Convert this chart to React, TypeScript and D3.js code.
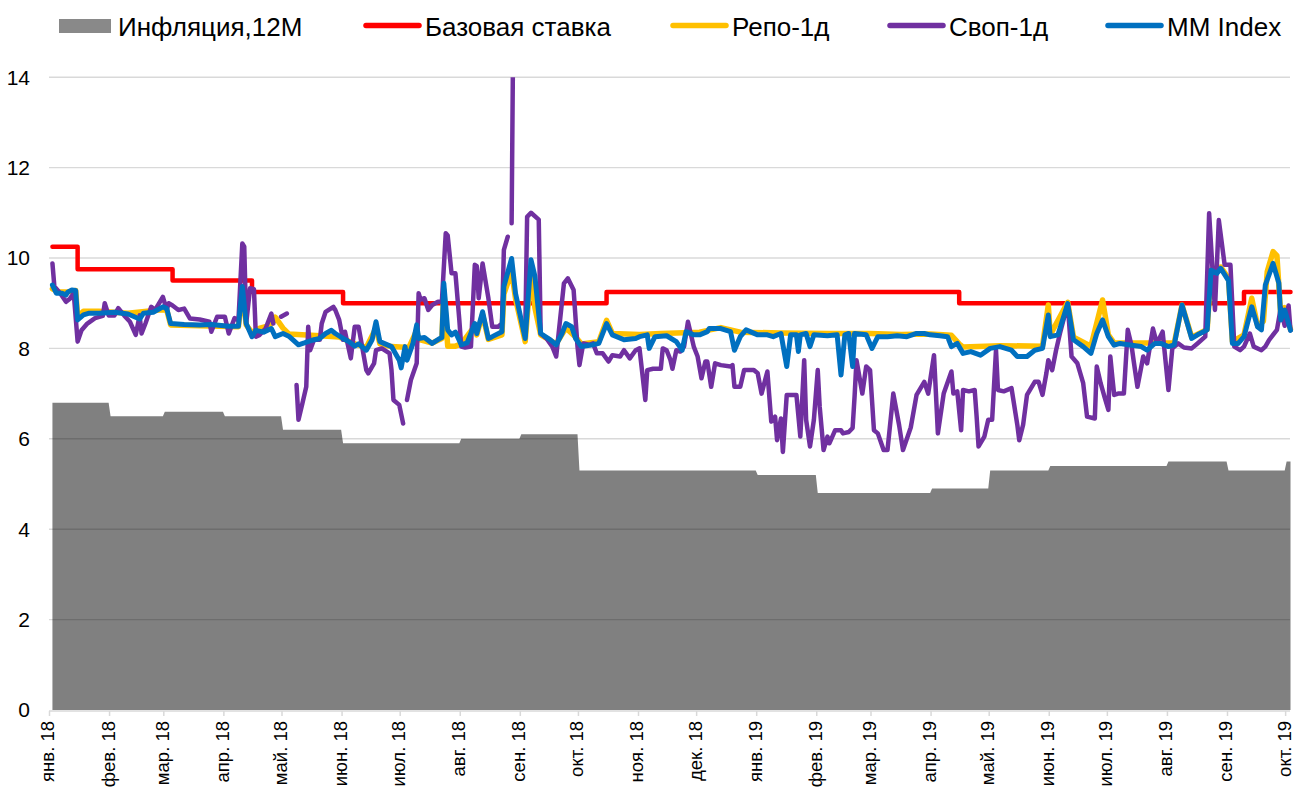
import React from "react";
import * as d3 from "d3";

// ---------- DATA ----------
const inflationMonths = [
  "2018-01", "2018-02", "2018-03", "2018-04", "2018-05", "2018-06", "2018-07", "2018-08",
  "2018-09", "2018-10", "2018-11", "2018-12", "2019-01", "2019-02", "2019-03", "2019-04",
  "2019-05", "2019-06", "2019-07", "2019-08", "2019-09", "2019-10",
];
const inflationValues = [6.8, 6.5, 6.6, 6.5, 6.2, 5.9, 5.9, 6.0, 6.1, 5.3, 5.3, 5.3, 5.2, 4.8, 4.8, 4.9, 5.3, 5.4, 5.4, 5.5, 5.3, 5.5];

const baseRateDates = ["2018-01-02", "2018-01-15", "2018-03-05", "2018-04-15", "2018-06-01", "2018-10-15", "2019-04-15", "2019-09-09", "2019-10-03"];
const baseRateValues = [10.25, 9.75, 9.5, 9.25, 9.0, 9.25, 9.0, 9.25, 9.25];

const repoPoints: [string, number][] = [
  ["2018-01-02", 9.32], ["2018-01-05", 9.25], ["2018-01-10", 9.25], ["2018-01-14", 9.28], ["2018-01-15", 8.7],
  ["2018-01-18", 8.82], ["2018-01-26", 8.82], ["2018-02-10", 8.78], ["2018-02-26", 8.85], ["2018-03-02", 8.85],
  ["2018-03-04", 8.52], ["2018-03-19", 8.5], ["2018-04-08", 8.48], ["2018-04-10", 9.3], ["2018-04-12", 8.52],
  ["2018-04-15", 8.35], ["2018-04-19", 8.45], ["2018-04-24", 8.5], ["2018-04-27", 8.69], ["2018-05-01", 8.45],
  ["2018-05-04", 8.32], ["2018-05-20", 8.28], ["2018-05-30", 8.25], ["2018-06-07", 8.1], ["2018-06-13", 8.02],
  ["2018-06-18", 8.45], ["2018-06-20", 8.1], ["2018-06-26", 8.04], ["2018-07-05", 8.02], ["2018-07-09", 8.4],
  ["2018-07-10", 8.2], ["2018-07-17", 8.12], ["2018-07-22", 8.22], ["2018-07-23", 9.3], ["2018-07-25", 8.05],
  ["2018-07-29", 8.05], ["2018-08-01", 8.1], ["2018-08-08", 8.5], ["2018-08-09", 8.3], ["2018-08-12", 8.75],
  ["2018-08-15", 8.2], ["2018-08-22", 8.3], ["2018-08-23", 9.2], ["2018-08-27", 9.7], ["2018-08-29", 9.1],
  ["2018-09-03", 8.15], ["2018-09-06", 9.75], ["2018-09-08", 8.9], ["2018-09-11", 8.3], ["2018-09-19", 8.1],
  ["2018-09-24", 8.45], ["2018-09-29", 8.25], ["2018-10-02", 8.1], ["2018-10-11", 8.15], ["2018-10-15", 8.62],
  ["2018-10-18", 8.33], ["2018-11-01", 8.31], ["2018-11-12", 8.33], ["2018-12-02", 8.36], ["2018-12-13", 8.46],
  ["2018-12-23", 8.36], ["2019-01-13", 8.34], ["2019-02-07", 8.33], ["2019-02-28", 8.33], ["2019-03-16", 8.31],
  ["2019-03-31", 8.32], ["2019-04-11", 8.29], ["2019-04-15", 8.1], ["2019-04-17", 8.03], ["2019-05-06", 8.06],
  ["2019-05-28", 8.05], ["2019-05-31", 8.96], ["2019-06-01", 8.3], ["2019-06-10", 9.02], ["2019-06-13", 8.25],
  ["2019-06-22", 8.05], ["2019-06-28", 9.07], ["2019-07-01", 8.3], ["2019-07-04", 8.12], ["2019-07-23", 8.12],
  ["2019-08-04", 8.12], ["2019-08-08", 8.96], ["2019-08-13", 8.25], ["2019-08-21", 8.42], ["2019-08-23", 9.73],
  ["2019-08-28", 9.8], ["2019-09-01", 9.55], ["2019-09-03", 8.15], ["2019-09-09", 8.3], ["2019-09-13", 9.11],
  ["2019-09-16", 8.5], ["2019-09-19", 8.6], ["2019-09-21", 9.7], ["2019-09-24", 10.14], ["2019-09-26", 10.05],
  ["2019-09-28", 8.7], ["2019-09-30", 8.9], ["2019-10-03", 8.42],
];

// null = gap in the series
const swapPoints: ([string, number] | null)[] = [
  ["2018-01-02", 9.88], ["2018-01-03", 9.37], ["2018-01-06", 9.22], ["2018-01-09", 9.03], ["2018-01-11", 9.1],
  ["2018-01-13", 9.22], ["2018-01-15", 8.15], ["2018-01-17", 8.4], ["2018-01-20", 8.55], ["2018-01-24", 8.67],
  ["2018-01-28", 8.72], ["2018-01-29", 9.0], ["2018-01-31", 8.73], ["2018-02-03", 8.73], ["2018-02-05", 8.89],
  ["2018-02-08", 8.73], ["2018-02-11", 8.59], ["2018-02-14", 8.3], ["2018-02-16", 8.73], ["2018-02-17", 8.33],
  ["2018-02-19", 8.55], ["2018-02-22", 8.92], ["2018-02-24", 8.85], ["2018-02-28", 9.14], ["2018-03-02", 8.85],
  ["2018-03-03", 9.0], ["2018-03-05", 8.95], ["2018-03-08", 8.85], ["2018-03-11", 8.88], ["2018-03-14", 8.66],
  ["2018-03-19", 8.64], ["2018-03-24", 8.59], ["2018-03-25", 8.37], ["2018-03-28", 8.7], ["2018-04-01", 8.7],
  ["2018-04-03", 8.33], ["2018-04-06", 8.67], ["2018-04-08", 8.62], ["2018-04-10", 10.32], ["2018-04-11", 10.25],
  ["2018-04-12", 8.55], ["2018-04-14", 9.33], ["2018-04-16", 9.31], ["2018-04-17", 8.26], ["2018-04-19", 8.3],
  ["2018-04-22", 8.44], ["2018-04-24", 8.66], ["2018-04-25", 8.77], ["2018-04-26", 8.55],
  null,
  ["2018-04-30", 8.7], ["2018-05-03", 8.77],
  null,
  ["2018-05-08", 7.19], ["2018-05-09", 6.42], ["2018-05-11", 6.78], ["2018-05-13", 7.15], ["2018-05-14", 8.48],
  ["2018-05-15", 7.96], ["2018-05-17", 8.19], ["2018-05-20", 8.19], ["2018-05-21", 8.55], ["2018-05-23", 8.81],
  ["2018-05-27", 8.92], ["2018-05-28", 8.85], ["2018-05-30", 8.63], ["2018-06-01", 8.19], ["2018-06-02", 8.37],
  ["2018-06-05", 7.78], ["2018-06-07", 8.48], ["2018-06-09", 8.48], ["2018-06-11", 8.0], ["2018-06-13", 7.52],
  ["2018-06-14", 7.45], ["2018-06-17", 7.67], ["2018-06-18", 7.96], ["2018-06-21", 8.0], ["2018-06-25", 7.89],
  ["2018-06-26", 7.52], ["2018-06-27", 6.86], ["2018-06-30", 6.75], ["2018-07-02", 6.34],
  null,
  ["2018-07-04", 6.86], ["2018-07-06", 7.3], ["2018-07-09", 7.67], ["2018-07-10", 9.22], ["2018-07-11", 9.08],
  ["2018-07-13", 9.11], ["2018-07-15", 8.85], ["2018-07-17", 8.96], ["2018-07-20", 9.03], ["2018-07-22", 9.03],
  ["2018-07-24", 10.55], ["2018-07-25", 10.5], ["2018-07-27", 9.66], ["2018-07-29", 9.66], ["2018-07-31", 8.63],
  ["2018-08-01", 8.04], ["2018-08-03", 8.02], ["2018-08-06", 8.04], ["2018-08-08", 9.85], ["2018-08-09", 9.82],
  ["2018-08-10", 9.11], ["2018-08-12", 9.88], ["2018-08-15", 9.11], ["2018-08-17", 8.48], ["2018-08-20", 8.48],
  ["2018-08-22", 8.55], ["2018-08-23", 10.18], ["2018-08-25", 10.47],
  null,
  ["2018-08-27", 10.77], ["2018-08-28", 16.0],
  null,
  ["2018-09-03", 8.26], ["2018-09-04", 10.91], ["2018-09-06", 11.0], ["2018-09-10", 10.85], ["2018-09-11", 8.33],
  ["2018-09-14", 8.22], ["2018-09-17", 8.04], ["2018-09-19", 7.82], ["2018-09-23", 9.44], ["2018-09-25", 9.55],
  ["2018-09-28", 9.29], ["2018-09-30", 8.04], ["2018-10-01", 7.63], ["2018-10-03", 8.11], ["2018-10-06", 8.08],
  ["2018-10-08", 8.11], ["2018-10-10", 7.89], ["2018-10-13", 7.89], ["2018-10-16", 7.71], ["2018-10-18", 7.85],
  ["2018-10-22", 7.82], ["2018-10-24", 7.96], ["2018-10-27", 7.78], ["2018-10-30", 7.96], ["2018-11-01", 8.0],
  ["2018-11-04", 6.86], ["2018-11-05", 7.52], ["2018-11-08", 7.55], ["2018-11-12", 7.55], ["2018-11-13", 8.0],
  ["2018-11-15", 7.96], ["2018-11-17", 7.74], ["2018-11-18", 7.55], ["2018-11-20", 7.96], ["2018-11-22", 7.93],
  ["2018-11-24", 8.04], ["2018-11-26", 8.59], ["2018-11-29", 8.04], ["2018-12-01", 7.82], ["2018-12-03", 7.34],
  ["2018-12-05", 7.71], ["2018-12-06", 7.71], ["2018-12-08", 7.15], ["2018-12-10", 7.67], ["2018-12-13", 7.63],
  ["2018-12-18", 7.6], ["2018-12-19", 7.63], ["2018-12-20", 7.15], ["2018-12-23", 7.15], ["2018-12-25", 7.52],
  ["2018-12-30", 7.52], ["2019-01-01", 7.45], ["2019-01-03", 7.0], ["2019-01-06", 7.49], ["2019-01-08", 6.38],
  ["2019-01-10", 6.49], ["2019-01-11", 5.97], ["2019-01-13", 6.45], ["2019-01-14", 5.71], ["2019-01-16", 6.97],
  ["2019-01-19", 6.97], ["2019-01-21", 6.97], ["2019-01-23", 6.05], ["2019-01-25", 7.74], ["2019-01-26", 6.42],
  ["2019-01-28", 5.83], ["2019-01-30", 6.42], ["2019-02-01", 7.52], ["2019-02-02", 6.71], ["2019-02-04", 5.75],
  ["2019-02-06", 6.05], ["2019-02-07", 5.9], ["2019-02-10", 6.19], ["2019-02-13", 6.19], ["2019-02-14", 6.12],
  ["2019-02-17", 6.15], ["2019-02-19", 6.24], ["2019-02-20", 6.93], ["2019-02-21", 7.74], ["2019-02-24", 7.0],
  ["2019-02-26", 7.6], ["2019-02-28", 7.52], ["2019-03-02", 6.19], ["2019-03-04", 6.12], ["2019-03-07", 5.75],
  ["2019-03-09", 5.75], ["2019-03-12", 7.0], ["2019-03-15", 6.3], ["2019-03-17", 5.75], ["2019-03-21", 6.25],
  ["2019-03-24", 6.97], ["2019-03-28", 7.26], ["2019-03-30", 7.0], ["2019-04-02", 7.85], ["2019-04-03", 7.0],
  ["2019-04-04", 6.12], ["2019-04-07", 7.0], ["2019-04-11", 7.49], ["2019-04-12", 7.0], ["2019-04-14", 7.05],
  ["2019-04-16", 6.19], ["2019-04-17", 7.08], ["2019-04-20", 7.05], ["2019-04-23", 7.08], ["2019-04-24", 6.49],
  ["2019-04-25", 5.83], ["2019-04-28", 6.05], ["2019-04-30", 6.42], ["2019-05-02", 6.42], ["2019-05-04", 7.96],
  ["2019-05-05", 7.08], ["2019-05-08", 7.05], ["2019-05-12", 7.12], ["2019-05-15", 6.31], ["2019-05-16", 5.97],
  ["2019-05-18", 6.31], ["2019-05-20", 6.97], ["2019-05-24", 7.26], ["2019-05-26", 7.26], ["2019-05-28", 6.97],
  ["2019-05-30", 7.45], ["2019-05-31", 7.74], ["2019-06-02", 7.52], ["2019-06-04", 7.96], ["2019-06-06", 8.33],
  ["2019-06-10", 8.99], ["2019-06-12", 7.82], ["2019-06-15", 7.67], ["2019-06-18", 7.23], ["2019-06-20", 6.49],
  ["2019-06-24", 6.45], ["2019-06-25", 7.6], ["2019-06-27", 7.23], ["2019-06-29", 6.93], ["2019-07-01", 6.64],
  ["2019-07-02", 7.82], ["2019-07-03", 7.38], ["2019-07-04", 6.97], ["2019-07-06", 7.0], ["2019-07-09", 7.0],
  ["2019-07-11", 8.41], ["2019-07-13", 8.05], ["2019-07-14", 7.74], ["2019-07-16", 7.15], ["2019-07-19", 7.82],
  ["2019-07-21", 7.67], ["2019-07-24", 8.44], ["2019-07-26", 8.11], ["2019-07-29", 8.37], ["2019-08-01", 7.08],
  ["2019-08-03", 8.0], ["2019-08-06", 8.11], ["2019-08-09", 8.02], ["2019-08-13", 8.0], ["2019-08-16", 8.11],
  ["2019-08-20", 8.26], ["2019-08-22", 10.99], ["2019-08-25", 8.85], ["2019-08-27", 10.84], ["2019-08-30", 9.85],
  ["2019-09-02", 9.85], ["2019-09-04", 8.04], ["2019-09-07", 7.96], ["2019-09-09", 8.04], ["2019-09-12", 8.33],
  ["2019-09-14", 8.04], ["2019-09-18", 7.96], ["2019-09-20", 8.04], ["2019-09-22", 8.19], ["2019-09-26", 8.41],
  ["2019-09-28", 8.9], ["2019-09-30", 8.5], ["2019-10-02", 8.95], ["2019-10-03", 8.4],
];

const mmIndexPoints: [string, number][] = [
  ["2018-01-02", 9.4], ["2018-01-04", 9.22], ["2018-01-07", 9.22], ["2018-01-09", 9.18], ["2018-01-10", 9.25],
  ["2018-01-12", 9.29], ["2018-01-14", 9.28], ["2018-01-15", 8.63], ["2018-01-18", 8.74], ["2018-01-21", 8.78],
  ["2018-01-26", 8.78], ["2018-02-03", 8.8], ["2018-02-10", 8.76], ["2018-02-16", 8.65], ["2018-02-18", 8.78],
  ["2018-02-23", 8.8], ["2018-02-28", 8.92], ["2018-03-02", 8.88], ["2018-03-04", 8.55], ["2018-03-11", 8.53],
  ["2018-03-19", 8.52], ["2018-03-25", 8.53], ["2018-04-03", 8.49], ["2018-04-08", 8.49], ["2018-04-10", 9.37],
  ["2018-04-12", 8.55], ["2018-04-15", 8.26], ["2018-04-17", 8.4], ["2018-04-21", 8.36], ["2018-04-25", 8.44],
  ["2018-04-27", 8.26], ["2018-05-01", 8.33], ["2018-05-04", 8.27], ["2018-05-09", 8.08], ["2018-05-12", 8.12],
  ["2018-05-16", 8.18], ["2018-05-20", 8.22], ["2018-05-23", 8.33], ["2018-05-26", 8.4], ["2018-05-28", 8.33],
  ["2018-06-01", 8.22], ["2018-06-04", 8.15], ["2018-06-07", 8.05], ["2018-06-09", 8.1], ["2018-06-13", 7.96],
  ["2018-06-16", 8.19], ["2018-06-18", 8.59], ["2018-06-20", 8.15], ["2018-06-26", 8.04], ["2018-06-30", 7.74],
  ["2018-07-01", 7.57], ["2018-07-03", 8.04], ["2018-07-04", 7.74], ["2018-07-07", 8.1], ["2018-07-09", 8.52],
  ["2018-07-10", 8.22], ["2018-07-13", 8.24], ["2018-07-17", 8.11], ["2018-07-21", 8.22], ["2018-07-22", 8.24],
  ["2018-07-23", 9.44], ["2018-07-25", 8.41], ["2018-07-27", 8.3], ["2018-07-29", 8.36], ["2018-08-01", 8.08],
  ["2018-08-04", 8.12], ["2018-08-08", 8.55], ["2018-08-09", 8.33], ["2018-08-12", 8.81], ["2018-08-15", 8.22],
  ["2018-08-17", 8.26], ["2018-08-22", 8.37], ["2018-08-23", 9.37], ["2018-08-27", 9.99], ["2018-08-29", 9.22],
  ["2018-09-03", 8.22], ["2018-09-06", 9.96], ["2018-09-08", 9.6], ["2018-09-11", 8.33], ["2018-09-16", 8.19],
  ["2018-09-19", 8.08], ["2018-09-22", 8.33], ["2018-09-24", 8.55], ["2018-09-27", 8.48], ["2018-09-29", 8.22],
  ["2018-10-02", 8.04], ["2018-10-08", 8.08], ["2018-10-11", 8.11], ["2018-10-15", 8.55], ["2018-10-18", 8.3],
  ["2018-10-24", 8.19], ["2018-10-30", 8.22], ["2018-11-01", 8.26], ["2018-11-05", 8.3], ["2018-11-06", 8.0],
  ["2018-11-09", 8.26], ["2018-11-15", 8.28], ["2018-11-20", 8.15], ["2018-11-23", 7.96], ["2018-11-25", 8.37],
  ["2018-11-29", 8.3], ["2018-12-02", 8.3], ["2018-12-06", 8.37], ["2018-12-07", 8.44], ["2018-12-13", 8.44],
  ["2018-12-18", 8.37], ["2018-12-20", 7.96], ["2018-12-23", 8.26], ["2018-12-26", 8.41], ["2019-01-01", 8.3],
  ["2019-01-06", 8.3], ["2019-01-09", 8.26], ["2019-01-13", 8.33], ["2019-01-16", 7.6], ["2019-01-18", 8.3],
  ["2019-01-21", 8.3], ["2019-01-22", 7.93], ["2019-01-23", 8.3], ["2019-01-26", 8.33], ["2019-01-28", 8.04],
  ["2019-01-30", 8.3], ["2019-02-06", 8.28], ["2019-02-11", 8.3], ["2019-02-13", 7.41], ["2019-02-15", 8.3],
  ["2019-02-17", 8.33], ["2019-02-19", 7.6], ["2019-02-20", 8.33], ["2019-02-26", 8.3], ["2019-03-01", 8.0],
  ["2019-03-04", 8.26], ["2019-03-09", 8.26], ["2019-03-14", 8.28], ["2019-03-19", 8.26], ["2019-03-24", 8.33],
  ["2019-03-28", 8.33], ["2019-03-31", 8.3], ["2019-04-05", 8.28], ["2019-04-09", 8.26], ["2019-04-11", 8.04],
  ["2019-04-14", 8.11], ["2019-04-17", 7.89], ["2019-04-21", 7.93], ["2019-04-26", 7.85], ["2019-05-01", 8.0],
  ["2019-05-06", 8.04], ["2019-05-12", 7.96], ["2019-05-15", 7.82], ["2019-05-20", 7.82], ["2019-05-24", 7.96],
  ["2019-05-28", 8.0], ["2019-05-31", 8.74], ["2019-06-01", 8.26], ["2019-06-05", 8.3], ["2019-06-10", 8.99],
  ["2019-06-13", 8.19], ["2019-06-18", 8.04], ["2019-06-22", 7.89], ["2019-06-25", 8.33], ["2019-06-28", 8.63],
  ["2019-07-01", 8.26], ["2019-07-04", 8.07], ["2019-07-07", 8.11], ["2019-07-13", 8.07], ["2019-07-18", 8.04],
  ["2019-07-21", 7.96], ["2019-07-25", 8.11], ["2019-07-28", 8.11], ["2019-08-01", 8.04], ["2019-08-04", 8.08],
  ["2019-08-08", 8.96], ["2019-08-13", 8.22], ["2019-08-16", 8.3], ["2019-08-21", 8.41], ["2019-08-23", 9.73],
  ["2019-08-26", 9.66], ["2019-08-28", 9.77], ["2019-09-01", 9.5], ["2019-09-03", 8.11], ["2019-09-06", 8.11],
  ["2019-09-09", 8.26], ["2019-09-13", 8.92], ["2019-09-16", 8.48], ["2019-09-18", 8.41], ["2019-09-20", 9.4],
  ["2019-09-24", 9.88], ["2019-09-27", 9.44], ["2019-09-28", 8.63], ["2019-09-30", 8.85], ["2019-10-03", 8.4],
];

const yTicks = [0, 2, 4, 6, 8, 10, 12, 14];
const monthTickDates = inflationMonths.map((m) => m + "-01");
const monthLabels = [
  "янв. 18", "фев. 18", "мар. 18", "апр. 18", "май. 18", "июн. 18", "июл. 18", "авг. 18",
  "сен. 18", "окт. 18", "ноя. 18", "дек. 18", "янв. 19", "фев. 19", "мар. 19", "апр. 19",
  "май. 19", "июн. 19", "июл. 19", "авг. 19", "сен. 19", "окт. 19",
];

const legendLabels = ["Инфляция,12М", "Базовая ставка", "Репо-1д", "Своп-1д", "MM Index"];
const seriesColors = ["#808080", "#ff0000", "#ffc000", "#7030a0", "#0070c0"];

// ---------- CHART ----------
const W = 1296;
const H = 789;
const FONT = "'Liberation Sans', Arial, Helvetica, sans-serif";

export default function App() {
  const parse = d3.timeParse("%Y-%m-%d");
  const p = (s: string) => parse(s) as Date;

  const x = d3.scaleTime().domain([p("2018-01-01"), p("2019-10-03")]).range([50.5, 1290.5]);
  const y = d3.scaleLinear().domain([0, 14]).range([710, 77.2]);
  const plotLeft = 49;
  const plotRight = 1290;

  // inflation: constant through each month
  const inflPts: [Date, number][] = [];
  inflationMonths.forEach((m, i) => {
    const start = i === 0 ? p("2018-01-02") : p(m + "-01");
    const end =
      i === inflationMonths.length - 1
        ? p("2019-10-03")
        : d3.timeDay.offset(p(inflationMonths[i + 1] + "-01"), -1);
    inflPts.push([start, inflationValues[i]]);
    inflPts.push([end, inflationValues[i]]);
  });
  const area = d3
    .area<[Date, number]>()
    .x((d) => x(d[0]))
    .y0(y(0))
    .y1((d) => y(d[1]));

  const rateLine = d3
    .line<number>()
    .x((_, i) => x(p(baseRateDates[i])))
    .y((v) => y(v))
    .curve(d3.curveStepAfter);

  const ptLine = d3
    .line<[string, number] | null>()
    .defined((d) => d !== null)
    .x((d) => x(p((d as [string, number])[0])))
    .y((d) => y((d as [string, number])[1]))
    .curve(d3.curveLinear);

  const legendX = [59, 366, 673, 890, 1108];

  return (
    <svg
      width={W}
      height={H}
      style={{ position: "absolute", left: 0, top: 0, background: "#fff" }}
      fontFamily={FONT}
    >
      <defs>
        <clipPath id="plotClip">
          <rect x={0} y={y(14)} width={W} height={H - y(14)} />
        </clipPath>
      </defs>

      {/* inflation area */}
      <path d={area(inflPts) || ""} fill={seriesColors[0]} />

      {/* gridlines */}
      {yTicks
        .filter((t) => t > 0)
        .map((t) => (
          <line
            key={t}
            x1={plotLeft}
            x2={plotRight}
            y1={y(t)}
            y2={y(t)}
            stroke="rgba(0,0,0,0.15)"
            strokeWidth={1.4}
          />
        ))}

      {/* x axis */}
      <line x1={plotLeft} x2={plotRight} y1={y(0) + 1} y2={y(0) + 1} stroke="#d9d9d9" strokeWidth={1.5} />
      {monthTickDates.map((d, i) => {
        const tx = x(p(d)) - 1;
        return (
          <g key={d}>
            <line x1={tx} x2={tx} y1={y(0) + 1} y2={y(0) + 6} stroke="#d9d9d9" strokeWidth={1.5} />
            <text
              transform={`translate(${tx - 1.5},${721}) rotate(-90)`}
              textAnchor="end"
              dy="0.35em"
              fontSize={18.5}
              fill="#000"
            >
              {monthLabels[i]}
            </text>
          </g>
        );
      })}

      {/* y labels */}
      {yTicks.map((t) => (
        <text key={t} x={30} y={y(t)} dy="0.35em" textAnchor="end" fontSize={21} fill="#000">
          {t}
        </text>
      ))}

      <g clipPath="url(#plotClip)" fill="none" strokeLinejoin="round" strokeLinecap="round">
        <path d={rateLine(baseRateValues) || ""} stroke={seriesColors[1]} strokeWidth={4.5} />
        <path d={ptLine(repoPoints) || ""} stroke={seriesColors[2]} strokeWidth={5.5} />
        <path d={ptLine(swapPoints) || ""} stroke={seriesColors[3]} strokeWidth={4.5} />
        <path d={ptLine(mmIndexPoints) || ""} stroke={seriesColors[4]} strokeWidth={5} />
      </g>

      {/* legend */}
      <g>
        <rect x={legendX[0]} y={19} width={52} height={14} fill="#898989" />
        {legendX.slice(1).map((lx, i) => (
          <line
            key={i}
            x1={lx}
            x2={lx + 53}
            y1={25.5}
            y2={25.5}
            stroke={seriesColors[i + 1]}
            strokeWidth={5.5}
            strokeLinecap="round"
          />
        ))}
        {legendLabels.map((lab, i) => (
          <text key={lab} x={legendX[i] + 59} y={36} fontSize={26} fill="#000">
            {lab}
          </text>
        ))}
      </g>
    </svg>
  );
}
